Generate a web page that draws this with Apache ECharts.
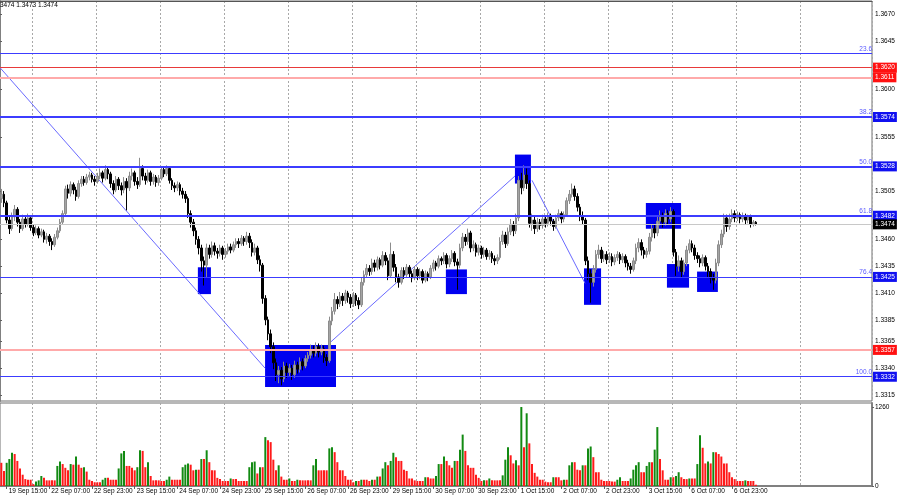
<!DOCTYPE html>
<html><head><meta charset="utf-8">
<script src="https://cdn.jsdelivr.net/npm/echarts@6/dist/echarts.min.js"></script>
<style>html,body{margin:0;padding:0;background:#fff}#c{width:900px;height:500px}</style>
</head><body><div id="c"></div>
<script>
const tickLabels = ["19 Sep 15:00","22 Sep 07:00","22 Sep 23:00","23 Sep 15:00","24 Sep 07:00","24 Sep 23:00","25 Sep 15:00","26 Sep 07:00","26 Sep 23:00","29 Sep 15:00","30 Sep 07:00","30 Sep 23:00","1 Oct 15:00","2 Oct 07:00","2 Oct 23:00","3 Oct 15:00","6 Oct 07:00","6 Oct 23:00"];
const firstLabelBar = 2, labelStep = 16, totalSlots = 327;
// [open, close, low, high]
const candles = [
[1.3498,1.3502,1.3494,1.3507],[1.3502,1.3494,1.3490,1.3505],[1.3494,1.3478,1.3475,1.3496],[1.3478,1.3470,1.3465,1.3482],
[1.3470,1.3481,1.3468,1.3485],[1.3481,1.3488,1.3477,1.3492],[1.3488,1.3476,1.3472,1.3490],[1.3476,1.3470,1.3466,1.3479],
[1.3470,1.3479,1.3468,1.3483],[1.3479,1.3474,1.3471,1.3482],[1.3474,1.3480,1.3472,1.3484],[1.3480,1.3471,1.3468,1.3482],
[1.3471,1.3466,1.3463,1.3474],[1.3466,1.3470,1.3464,1.3473],[1.3470,1.3464,1.3461,1.3472],[1.3464,1.3467,1.3462,1.3470],
[1.3467,1.3460,1.3457,1.3469],[1.3460,1.3463,1.3456,1.3466],[1.3463,1.3458,1.3454,1.3465],[1.3458,1.3455,1.3450,1.3461],
[1.3455,1.3462,1.3453,1.3465],[1.3462,1.3468,1.3460,1.3471],[1.3468,1.3476,1.3466,1.3479],[1.3476,1.3484,1.3474,1.3487],
[1.3484,1.3507,1.3482,1.3510],[1.3507,1.3503,1.3498,1.3511],[1.3503,1.3511,1.3500,1.3514],[1.3511,1.3506,1.3502,1.3513],
[1.3506,1.3500,1.3496,1.3509],[1.3500,1.3512,1.3498,1.3515],[1.3512,1.3516,1.3509,1.3519],[1.3516,1.3513,1.3510,1.3519],
[1.3513,1.3518,1.3511,1.3521],[1.3518,1.3520,1.3515,1.3523],[1.3520,1.3516,1.3513,1.3522],[1.3516,1.3514,1.3510,1.3519],
[1.3514,1.3519,1.3512,1.3522],[1.3519,1.3522,1.3516,1.3526],[1.3522,1.3517,1.3513,1.3524],[1.3517,1.3525,1.3515,1.3529],
[1.3525,1.3521,1.3516,1.3528],[1.3521,1.3512,1.3508,1.3523],[1.3512,1.3506,1.3502,1.3515],[1.3506,1.3516,1.3504,1.3519],
[1.3516,1.3510,1.3506,1.3518],[1.3510,1.3506,1.3501,1.3513],[1.3506,1.3514,1.3503,1.3518],[1.3514,1.3508,1.3487,1.3517],
[1.3508,1.3519,1.3505,1.3523],[1.3519,1.3522,1.3515,1.3526],[1.3522,1.3514,1.3510,1.3524],[1.3514,1.3511,1.3507,1.3518],
[1.3511,1.3526,1.3509,1.3536],[1.3526,1.3519,1.3515,1.3529],[1.3519,1.3515,1.3511,1.3522],[1.3515,1.3522,1.3513,1.3525],
[1.3522,1.3514,1.3510,1.3524],[1.3514,1.3518,1.3511,1.3521],[1.3518,1.3513,1.3509,1.3520],[1.3513,1.3517,1.3510,1.3520],
[1.3517,1.3525,1.3515,1.3528],[1.3525,1.3521,1.3518,1.3527],[1.3521,1.3526,1.3519,1.3529],[1.3526,1.3515,1.3512,1.3528],
[1.3515,1.3510,1.3506,1.3517],[1.3510,1.3508,1.3504,1.3513],[1.3508,1.3511,1.3505,1.3514],[1.3511,1.3505,1.3501,1.3513],
[1.3505,1.3502,1.3498,1.3508],[1.3502,1.3498,1.3494,1.3505],[1.3498,1.3484,1.3480,1.3500],[1.3484,1.3476,1.3471,1.3487],
[1.3476,1.3468,1.3463,1.3479],[1.3468,1.3460,1.3455,1.3471],[1.3460,1.3452,1.3446,1.3463],[1.3452,1.3440,1.3430,1.3455],
[1.3440,1.3436,1.3417,1.3444],[1.3436,1.3452,1.3425,1.3456],[1.3452,1.3446,1.3442,1.3455],[1.3446,1.3454,1.3443,1.3458],
[1.3454,1.3449,1.3445,1.3457],[1.3449,1.3447,1.3442,1.3452],[1.3447,1.3452,1.3444,1.3455],[1.3452,1.3446,1.3441,1.3454],
[1.3446,1.3449,1.3443,1.3452],[1.3449,1.3453,1.3446,1.3456],[1.3453,1.3450,1.3447,1.3456],[1.3450,1.3455,1.3448,1.3458],
[1.3455,1.3458,1.3452,1.3461],[1.3458,1.3456,1.3452,1.3461],[1.3456,1.3461,1.3454,1.3464],[1.3461,1.3458,1.3454,1.3463],
[1.3458,1.3463,1.3455,1.3467],[1.3463,1.3457,1.3452,1.3466],[1.3457,1.3448,1.3444,1.3460],[1.3448,1.3452,1.3445,1.3456],
[1.3452,1.3441,1.3437,1.3454],[1.3441,1.3436,1.3430,1.3445],[1.3436,1.3405,1.3400,1.3438],[1.3405,1.3385,1.3380,1.3408],
[1.3385,1.3372,1.3366,1.3388],[1.3372,1.3360,1.3354,1.3376],[1.3360,1.3345,1.3339,1.3364],[1.3345,1.3334,1.3328,1.3349],
[1.3334,1.3338,1.3326,1.3342],[1.3338,1.3330,1.3324,1.3341],[1.3330,1.3342,1.3327,1.3346],[1.3342,1.3336,1.3331,1.3345],
[1.3336,1.3340,1.3332,1.3344],[1.3340,1.3334,1.3329,1.3343],[1.3334,1.3343,1.3331,1.3347],[1.3343,1.3339,1.3335,1.3346],
[1.3339,1.3346,1.3336,1.3350],[1.3346,1.3342,1.3338,1.3349],[1.3342,1.3349,1.3340,1.3352],[1.3349,1.3352,1.3346,1.3355],
[1.3352,1.3357,1.3349,1.3362],[1.3357,1.3354,1.3350,1.3361],[1.3354,1.3360,1.3351,1.3364],[1.3360,1.3355,1.3350,1.3363],
[1.3355,1.3358,1.3352,1.3362],[1.3358,1.3350,1.3345,1.3361],[1.3350,1.3347,1.3342,1.3353],[1.3347,1.3384,1.3345,1.3388],
[1.3384,1.3393,1.3380,1.3397],[1.3393,1.3404,1.3390,1.3410],[1.3404,1.3400,1.3395,1.3407],[1.3400,1.3407,1.3397,1.3411],
[1.3407,1.3403,1.3398,1.3410],[1.3403,1.3410,1.3400,1.3413],[1.3410,1.3406,1.3401,1.3412],[1.3406,1.3400,1.3396,1.3409],
[1.3400,1.3408,1.3397,1.3411],[1.3408,1.3403,1.3398,1.3410],[1.3403,1.3399,1.3395,1.3406],[1.3399,1.3420,1.3397,1.3424],
[1.3420,1.3427,1.3417,1.3431],[1.3427,1.3433,1.3424,1.3437],[1.3433,1.3430,1.3426,1.3436],[1.3430,1.3438,1.3427,1.3442],
[1.3438,1.3434,1.3430,1.3441],[1.3434,1.3441,1.3431,1.3444],[1.3441,1.3436,1.3432,1.3443],[1.3436,1.3445,1.3434,1.3449],
[1.3445,1.3440,1.3436,1.3448],[1.3440,1.3426,1.3422,1.3443],[1.3426,1.3446,1.3424,1.3457],[1.3446,1.3434,1.3430,1.3449],
[1.3434,1.3425,1.3420,1.3437],[1.3425,1.3420,1.3415,1.3428],[1.3420,1.3431,1.3418,1.3434],[1.3431,1.3427,1.3423,1.3434],
[1.3427,1.3434,1.3425,1.3437],[1.3434,1.3428,1.3424,1.3436],[1.3428,1.3424,1.3420,1.3431],[1.3424,1.3432,1.3422,1.3435],
[1.3432,1.3426,1.3422,1.3434],[1.3426,1.3430,1.3423,1.3433],[1.3430,1.3422,1.3419,1.3432],[1.3422,1.3428,1.3420,1.3431],
[1.3428,1.3425,1.3421,1.3430],[1.3425,1.3433,1.3423,1.3436],[1.3433,1.3438,1.3430,1.3441],[1.3438,1.3435,1.3431,1.3440],
[1.3435,1.3442,1.3433,1.3445],[1.3442,1.3440,1.3436,1.3444],[1.3440,1.3445,1.3437,1.3448],[1.3445,1.3437,1.3433,1.3447],
[1.3437,1.3442,1.3434,1.3445],[1.3442,1.3447,1.3439,1.3450],[1.3447,1.3439,1.3435,1.3449],[1.3439,1.3436,1.3413,1.3442],
[1.3436,1.3452,1.3433,1.3456],[1.3452,1.3462,1.3449,1.3466],[1.3462,1.3458,1.3454,1.3465],[1.3458,1.3466,1.3455,1.3470],
[1.3466,1.3452,1.3448,1.3468],[1.3452,1.3455,1.3449,1.3459],[1.3455,1.3448,1.3444,1.3457],[1.3448,1.3452,1.3445,1.3455],
[1.3452,1.3446,1.3442,1.3454],[1.3446,1.3450,1.3443,1.3453],[1.3450,1.3444,1.3441,1.3452],[1.3444,1.3447,1.3441,1.3450],
[1.3447,1.3442,1.3438,1.3449],[1.3442,1.3440,1.3436,1.3445],[1.3440,1.3443,1.3437,1.3446],[1.3443,1.3458,1.3441,1.3462],
[1.3458,1.3464,1.3455,1.3468],[1.3464,1.3456,1.3452,1.3467],[1.3456,1.3467,1.3454,1.3471],[1.3467,1.3474,1.3464,1.3479],
[1.3474,1.3468,1.3463,1.3477],[1.3468,1.3480,1.3465,1.3484],[1.3480,1.3515,1.3477,1.3519],[1.3515,1.3508,1.3502,1.3522],
[1.3508,1.3520,1.3505,1.3529],[1.3520,1.3512,1.3507,1.3526],[1.3512,1.3475,1.3471,1.3515],[1.3475,1.3478,1.3468,1.3484],
[1.3478,1.3470,1.3465,1.3481],[1.3470,1.3476,1.3467,1.3480],[1.3476,1.3473,1.3469,1.3479],[1.3473,1.3479,1.3470,1.3483],
[1.3479,1.3475,1.3471,1.3482],[1.3475,1.3481,1.3472,1.3485],[1.3481,1.3477,1.3473,1.3484],[1.3477,1.3472,1.3468,1.3479],
[1.3472,1.3480,1.3470,1.3483],[1.3480,1.3484,1.3477,1.3488],[1.3484,1.3479,1.3475,1.3486],[1.3479,1.3483,1.3476,1.3486],
[1.3483,1.3496,1.3481,1.3499],[1.3496,1.3502,1.3493,1.3506],[1.3502,1.3507,1.3499,1.3512],[1.3507,1.3500,1.3496,1.3510],
[1.3500,1.3490,1.3486,1.3503],[1.3490,1.3482,1.3477,1.3493],[1.3482,1.3478,1.3474,1.3486],[1.3478,1.3440,1.3436,1.3480],
[1.3440,1.3428,1.3422,1.3444],[1.3428,1.3420,1.3401,1.3432],[1.3420,1.3432,1.3416,1.3436],[1.3432,1.3446,1.3429,1.3450],
[1.3446,1.3450,1.3442,1.3455],[1.3450,1.3442,1.3438,1.3453],[1.3442,1.3446,1.3439,1.3449],[1.3446,1.3441,1.3437,1.3449],
[1.3441,1.3444,1.3438,1.3448],[1.3444,1.3439,1.3435,1.3447],[1.3439,1.3443,1.3436,1.3446],[1.3443,1.3446,1.3440,1.3449],
[1.3446,1.3441,1.3437,1.3448],[1.3441,1.3444,1.3438,1.3447],[1.3444,1.3438,1.3434,1.3446],[1.3438,1.3435,1.3431,1.3441],
[1.3435,1.3432,1.3428,1.3438],[1.3432,1.3440,1.3430,1.3443],[1.3440,1.3452,1.3437,1.3456],[1.3452,1.3457,1.3448,1.3461],
[1.3457,1.3450,1.3445,1.3460],[1.3450,1.3446,1.3442,1.3453],[1.3446,1.3449,1.3443,1.3452],[1.3449,1.3462,1.3446,1.3466],
[1.3462,1.3470,1.3458,1.3474],[1.3470,1.3466,1.3461,1.3474],[1.3466,1.3477,1.3463,1.3481],[1.3477,1.3482,1.3473,1.3487],
[1.3482,1.3476,1.3471,1.3485],[1.3476,1.3484,1.3473,1.3488],[1.3484,1.3479,1.3474,1.3487],[1.3479,1.3486,1.3476,1.3490],
[1.3486,1.3448,1.3444,1.3488],[1.3448,1.3435,1.3426,1.3451],[1.3435,1.3440,1.3430,1.3445],[1.3440,1.3430,1.3424,1.3443],
[1.3430,1.3438,1.3427,1.3441],[1.3438,1.3450,1.3435,1.3454],[1.3450,1.3456,1.3447,1.3460],[1.3456,1.3452,1.3448,1.3459],
[1.3452,1.3445,1.3441,1.3455],[1.3445,1.3442,1.3438,1.3448],[1.3442,1.3438,1.3434,1.3445],[1.3438,1.3443,1.3435,1.3446],
[1.3443,1.3435,1.3431,1.3445],[1.3435,1.3430,1.3425,1.3438],[1.3430,1.3424,1.3419,1.3433],[1.3424,1.3422,1.3413,1.3428],
[1.3422,1.3438,1.3419,1.3442],[1.3438,1.3455,1.3435,1.3459],[1.3455,1.3465,1.3452,1.3469],[1.3465,1.3480,1.3462,1.3484],
[1.3480,1.3472,1.3467,1.3483],[1.3472,1.3479,1.3469,1.3484],[1.3479,1.3484,1.3476,1.3488],[1.3484,1.3480,1.3476,1.3487],
[1.3480,1.3483,1.3477,1.3486],[1.3483,1.3479,1.3475,1.3485],[1.3479,1.3482,1.3476,1.3485],[1.3482,1.3478,1.3474,1.3484],
[1.3478,1.3481,1.3475,1.3483],[1.3481,1.3474,1.3471,1.3483],[1.3474,1.3476,1.3472,1.3478],[1.3476,1.3474,1.3473,1.3477]
];
const volumes = [
370,240,370,430,530,510,400,280,180,110,100,100,30,70,90,160,130,90,90,90,
90,320,390,350,290,250,350,340,470,340,290,300,230,100,80,60,60,60,100,130,
130,100,100,100,280,520,560,320,320,290,250,300,570,560,300,380,160,90,90,90,
80,80,100,150,100,100,100,100,300,340,360,340,250,260,260,430,430,570,380,250,
250,130,110,80,80,80,120,110,110,80,80,80,80,300,380,390,200,300,300,780,
730,700,420,250,330,150,100,100,120,80,80,100,90,90,90,90,90,330,430,250,
250,250,250,600,620,540,380,250,250,160,100,100,60,80,80,100,100,100,80,100,
100,150,150,280,380,330,400,530,460,400,400,260,240,120,120,90,80,80,80,140,
140,120,120,160,350,350,470,400,330,290,400,400,580,820,560,330,290,290,180,130,
80,90,90,120,90,90,90,90,170,420,620,490,360,410,330,1260,620,1160,680,350,
210,150,100,100,70,60,60,140,140,140,90,100,100,330,380,380,260,250,330,330,
600,630,460,220,220,100,80,80,80,70,70,100,140,80,80,80,120,260,330,380,
220,220,320,380,380,580,940,430,250,100,100,140,140,160,220,140,110,110,120,120,
120,350,810,610,360,390,360,540,540,510,470,360,360,220,140,110,80,80,80,90,
80,80,80,20
];
const priceTicks = [1.3670,1.3645,1.3600,1.3555,1.3505,1.3460,1.3435,1.3410,1.3385,1.3365,1.3340,1.3315];
const volumeTicks = [0,1260];
const fibNames = ["23.6","38.2","50.0","61.8","76.4","100.0"];
const fibPrices = [1.3633,1.3574,1.3528,1.3482,1.3425,1.3332];
const redPrices = [1.3620,1.3611,1.3357];
const lastPrice = 1.3474;
// annotation boxes: [startBar, endBar, lowPrice, highPrice]
const zones = [
[74.2,79.1,1.3409,1.3434],[99.4,126.0,1.33225,1.33616],[167.2,175.1,1.3409,1.3432],[193.1,199.1,1.3512,1.3539],
[219.0,225.4,1.3399,1.3433],[242.2,255.4,1.3470,1.3494],[250.1,258.4,1.3415,1.3437],[261.4,269.2,1.3411,1.3430]
];
// zigzag segments: [bar, price] pairs
const zigzag = [
[[0,1.3620],[99.4,1.3340]],
[[123.4,1.3363],[193.1,1.3519]],
[[199.5,1.3515],[219.4,1.3419]]
];

const FONT = 'Liberation Sans';
const FS = 6.5;
const BLUE = '#3c3cff', BLUE_BG = '#1010f0', RED = '#e83a3a', PINK = '#ffaaaa', RED_BG = '#ff1010';
const categories = [];
for (let i = 0; i < totalSlots; i++) categories.push('b' + i);

function isLabelIdx(i){ return i >= firstLabelBar && (i - firstLabelBar) % labelStep === 0 && (i - firstLabelBar) / labelStep < tickLabels.length; }
function isGridIdx(i){ return i % 24 === 12 && i < 310; }

function priceLabel(bg){
  return {show:true, position:'end', distance:1, formatter:(p)=>Number(p.value).toFixed(4), color:'#fff',
    backgroundColor:bg, padding:[2,2,1,2], fontSize:FS, fontFamily:FONT};
}
const mlData = [];
fibPrices.forEach((p,k)=>{
  mlData.push({yAxis:p, lineStyle:{color:BLUE, width: (k>=1 && k<=3) ? 2 : 1, type:'solid'},
    label: k===0 ? {show:false} : priceLabel(BLUE_BG)});
});
mlData.push({yAxis:redPrices[0], lineStyle:{color:RED, width:1, type:'solid'}, label:priceLabel(RED_BG)});
mlData.push({yAxis:redPrices[1], lineStyle:{color:PINK, width:2, type:'solid'}, label:priceLabel(RED_BG)});
mlData.push({yAxis:redPrices[2], lineStyle:{color:PINK, width:2, type:'solid'}, label:priceLabel(RED_BG)});
mlData.push({yAxis:lastPrice, lineStyle:{color:'#c8c8c8', width:1, type:'solid'}, label:priceLabel('#000')});

// short segments at the right edge that carry the fib-level captions
const fibTextData = fibPrices.map((p,k)=>[
  {coord:[totalSlots-6, p], lineStyle:{color:BLUE, width:(k>=1 && k<=3) ? 2 : 1, type:'solid'},
   label:{show:true, position:'insideEndTop', distance:[0,1], formatter:fibNames[k], color:'#5a5aff', fontSize:FS, fontFamily:FONT}},
  {coord:[totalSlots, p]}
]);

const zigSeries = zigzag.map((seg, k)=>({
  type:'line', xAxisIndex:2, yAxisIndex:0, data:seg, symbol:'none', silent:true,
  lineStyle:{color:'#6a6aff', width:1}, z:3,
  markArea: k===0 ? {silent:true, itemStyle:{color:'#0000f0', opacity:1},
    data: zones.map(z=>[{coord:[z[0], z[3]]},{coord:[z[1], z[2]]}])} : undefined,
  markLine: k===1 ? {silent:true, symbol:'none', precision:4, animation:false, data:fibTextData} : undefined
}));

const chart = echarts.init(document.getElementById('c'), null, {renderer:'canvas'});
chart.setOption({
  animation:false,
  backgroundColor:'#ffffff',
  title:{text:'3474 1.3473 1.3474', left:0, top:2, padding:0, textStyle:{fontSize:FS, fontWeight:'normal', color:'#000', fontFamily:FONT}},
  grid:[
    {left:0, top:1, width:872, height:400, show:true, borderColor:'#707070', borderWidth:1},
    {left:0, top:403, width:872, height:83, show:true, borderColor:'#707070', borderWidth:1}
  ],
  xAxis:[
    {type:'category', gridIndex:0, data:categories, boundaryGap:true, position:'top',
      axisLine:{show:true, lineStyle:{color:'#555', width:1}}, axisTick:{show:false}, axisLabel:{show:false},
      splitLine:{show:true, interval:(i)=>isGridIdx(i), lineStyle:{color:'#a8a8a8', type:[2,2], width:1}}},
    {type:'category', gridIndex:1, data:categories, boundaryGap:true,
      axisLine:{show:true, lineStyle:{color:'#808080', width:2}},
      axisTick:{show:true, alignWithLabel:true, interval:(i)=>isLabelIdx(i), length:3, lineStyle:{color:'#606060'}},
      axisLabel:{show:true, interval:(i)=>isLabelIdx(i), formatter:(v,i)=>tickLabels[(i-firstLabelBar)/labelStep],
        align:'left', padding:[0,0,0,2], margin:2, fontSize:FS, fontFamily:FONT, color:'#000'},
      splitLine:{show:true, interval:(i)=>isGridIdx(i), lineStyle:{color:'#a8a8a8', type:[2,2], width:1}}},
    {type:'value', gridIndex:0, min:0, max:totalSlots, show:false}
  ],
  yAxis:[
    {type:'value', gridIndex:0, position:'right', min:1.33094, max:1.36821, scale:true,
      axisLine:{show:true, lineStyle:{color:'#808080', width:2}},
      axisTick:{show:true, length:2, customValues:priceTicks, lineStyle:{color:'#606060'}},
      axisLabel:{show:true, customValues:priceTicks, formatter:(v)=>v.toFixed(4), margin:3, fontSize:FS, fontFamily:FONT, color:'#000'},
      splitLine:{show:false}},
    {type:'value', gridIndex:1, position:'right', min:0, max:1324,
      axisLine:{show:true, lineStyle:{color:'#808080', width:2}},
      axisTick:{show:true, length:2, customValues:volumeTicks, lineStyle:{color:'#606060'}},
      axisLabel:{show:true, customValues:volumeTicks, formatter:(v)=>String(v), margin:3, fontSize:FS, fontFamily:FONT, color:'#000'},
      splitLine:{show:false}}
  ],
  series:[
    {type:'candlestick', xAxisIndex:0, yAxisIndex:0, data:candles, barWidth:2, silent:true, z:4,
      itemStyle:{color:'#a4a4a4', color0:'#000000', borderColor:'#8c8c8c', borderColor0:'#000000', borderWidth:1},
      markLine:{silent:true, symbol:'none', precision:4, animation:false, data:mlData}},
    ...zigSeries,
    {type:'bar', xAxisIndex:1, yAxisIndex:1, data:volumes, barWidth:2, silent:true,
      itemStyle:{color:(p)=> (p.dataIndex>0 && volumes[p.dataIndex] > volumes[p.dataIndex-1]) ? '#128a12' : '#ff1a1a'}}
  ]
});
</script>
</body></html>
